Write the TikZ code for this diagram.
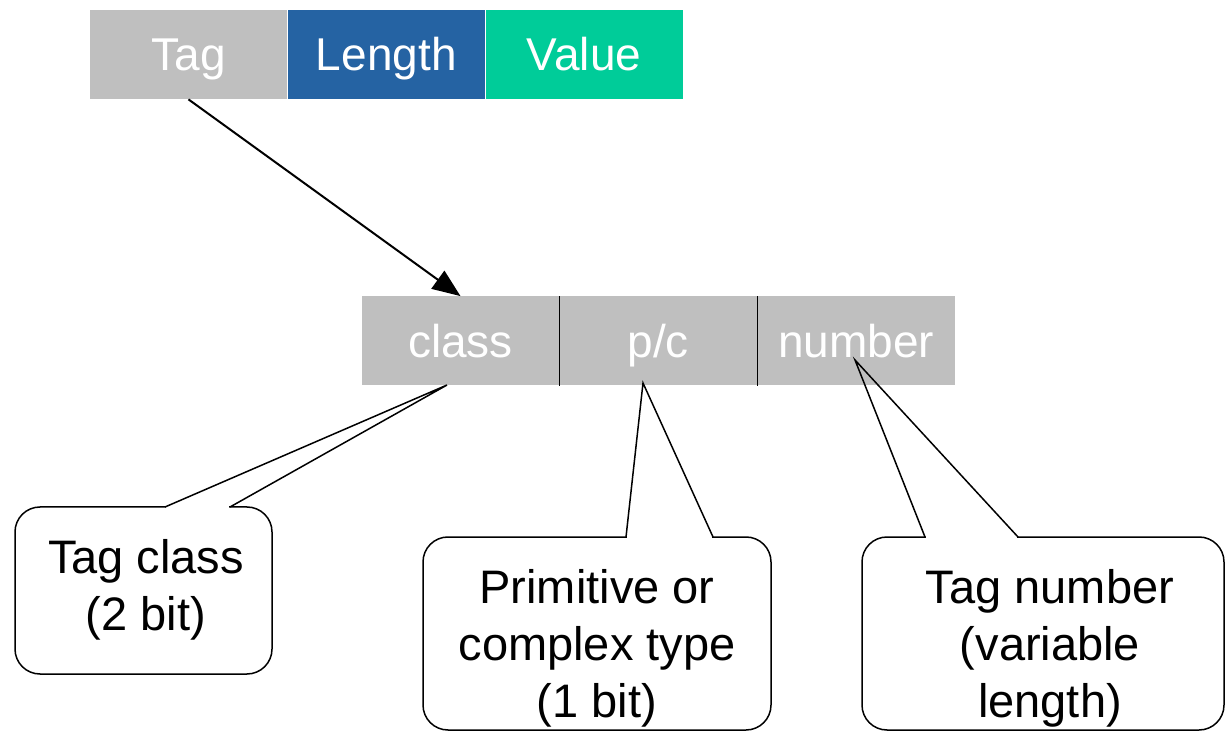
\documentclass[tikz,border=0pt]{standalone}
\usepackage{fontspec}
\setmainfont{Liberation Sans}
\usetikzlibrary{positioning,calc,arrows.meta}

\definecolor{taggray}{HTML}{BFBFBF}
\definecolor{lenblue}{HTML}{2563A3}
\definecolor{valgreen}{HTML}{00CC99}

\tikzset{
  cell/.style={minimum width=98.5pt, minimum height=44.5pt, inner sep=0pt,
    text height=16.5pt, text depth=0pt,
    text=white, font=\fontsize{23}{28}\selectfont},
  note/.style={draw, line width=0.75pt, rounded corners=12.5pt, inner sep=0pt},
  notetext/.style={align=center, font=\fontsize{23.5}{28.5}\selectfont},
  pointer/.style={line width=0.75pt, line join=miter}
}

\begin{document}
\begin{tikzpicture}[x=0.5pt, y=-0.5pt]
\useasboundingbox (0,0) rectangle (1225,731);

%--- TLV row ---
\node[cell, fill=taggray] (tag) at (188.5,54.5) {Tag};
\node[cell, fill=lenblue, right=0pt of tag] (len) {Length};
\node[cell, fill=valgreen, right=0pt of len] (val) {Value};

%--- Tag octet fields ---
\node[cell, fill=taggray] (cls) at (460.5,341) {class};
\node[cell, fill=taggray, right=0pt of cls] (pc) {p/c};
\node[cell, fill=taggray, right=0pt of pc] (num) {number};

% Separators between fields
\draw[line width=0.6pt] (cls.north east) -- (cls.south east);
\draw[line width=0.6pt] (pc.north east) -- (pc.south east);

% Tag expands into its fields
\draw[line width=1pt, -{Triangle[length=14pt,width=11pt]}] (tag.south) -- (cls.north);

%--- Callout boxes ---
\node[note, minimum width=128.5pt, minimum height=83.5pt] (clsnote) at (143.5,590.5) {};
\node[note, minimum width=174pt, minimum height=96.5pt] (pcnote) at (597,633.5) {};
\node[note, minimum width=181pt, minimum height=96.5pt] (numnote) at (1043,633.5) {};

\node[notetext] (clstext) at (146,590) {Tag class\\(2 bit)};
\node[notetext] (pctext) at (597,648) {Primitive or\\complex type\\(1 bit)};
\node[notetext] (numtext) at (1050,648) {Tag number\\(variable\\length)};

%--- Callout pointers ---
\coordinate (clstip) at (447,385);
\coordinate (clsa) at (165,507);
\coordinate (clsb) at (230,507);

\coordinate (pctip) at (643,383);
\coordinate (pca) at (626,537);
\coordinate (pcb) at (713,537);

\coordinate (numtip) at (855,360);
\coordinate (numa) at (925,537);
\coordinate (numb) at (1018,537);

% Open the box border under each pointer
\fill[white] ($(clsa)+(1,-2)$) rectangle ($(clsb)+(-1,2)$);
\fill[white] ($(pca)+(1,-2)$) rectangle ($(pcb)+(-1,2)$);
\fill[white] ($(numa)+(1,-2)$) rectangle ($(numb)+(-1,2)$);

\draw[pointer] (clsa) -- (clstip) -- (clsb);
\draw[pointer] (pca) -- (pctip) -- (pcb);
\draw[pointer] (numa) -- (numtip) -- (numb);

\end{tikzpicture}
\end{document}
